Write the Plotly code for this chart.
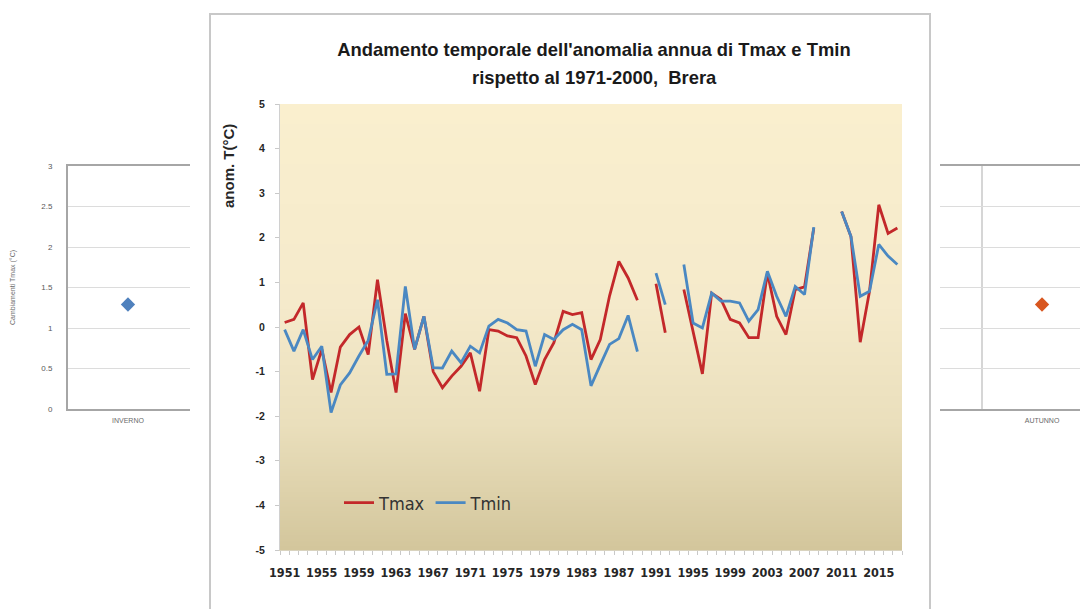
import base64, struct, zlib
import plotly.graph_objects as go

# ---------------- data ----------------
years = list(range(1951, 2018))
tmax = [0.10, 0.17, 0.54, -1.18, -0.50, -1.47, -0.45, -0.17, 0.00, -0.62,
        1.06, -0.30, -1.47, 0.30, -0.50, 0.24, -1.00, -1.36, -1.10, -0.88,
        -0.58, -1.44, -0.06, -0.09, -0.20, -0.24, -0.65, -1.29, -0.73, -0.35,
        0.35, 0.28, 0.32, -0.73, -0.28, 0.70, 1.47, 1.10, 0.60, None,
        0.97, -0.13, None, 0.84, -0.10, -1.05, 0.76, 0.62, 0.17, 0.09,
        -0.24, -0.24, 1.21, 0.24, -0.17, 0.84, 0.90, 2.22, None, None,
        2.59, 2.03, -0.34, 0.80, 2.74, 2.10, 2.22]
tmin = [-0.06, -0.54, -0.06, -0.73, -0.43, -1.92, -1.30, -1.03, -0.65, -0.30,
        0.61, -1.06, -1.05, 0.91, -0.50, 0.24, -0.91, -0.92, -0.54, -0.80,
        -0.43, -0.58, 0.02, 0.17, 0.09, -0.06, -0.09, -0.88, -0.17, -0.28,
        -0.06, 0.06, -0.06, -1.32, -0.85, -0.39, -0.26, 0.26, -0.55, None,
        1.21, 0.50, None, 1.40, 0.09, -0.02, 0.76, 0.58, 0.58, 0.54,
        0.13, 0.39, 1.25, 0.69, 0.24, 0.91, 0.73, 2.24, None, None,
        2.59, 2.03, 0.69, 0.80, 1.85, 1.59, 1.40]
tick_years = [1951, 1955, 1959, 1963, 1967, 1971, 1975, 1979, 1983, 1987,
              1991, 1995, 1999, 2003, 2007, 2011, 2015]
tick_labels = ["1951", "1955", "1959", "1963", "1967", "1971", "1975", "1979", "1983",
               "1987", "1991", "1995", "1999", "2003", "2007", "2011", "2015"]
y_ticks = [5, 4, 3, 2, 1, 0, -1, -2, -3, -4, -5]
y_tick_labels = ["5", "4", "3", "2", "1", "0", "-1", "-2", "-3", "-4", "-5"]

left_cat = ["INVERNO"]
left_val = [1.29]
right_cat = ["AUTUNNO"]
right_val = [1.29]

# page offset of the plot div (body margin) is compensated here
OFF = 8
W, H = 1088 - OFF, 609 - OFF
RED = "#C3282A"
BLUE = "#4A88C2"


def px(x):
    return (x - OFF) / W


def py(y):
    return 1 - (y - OFF) / H


def gradient_png(stops, h=256):
    rows = []
    for r in range(h):
        t = r / (h - 1)
        for i in range(len(stops) - 1):
            t0, c0 = stops[i]
            t1, c1 = stops[i + 1]
            if t0 <= t <= t1:
                f = (t - t0) / (t1 - t0) if t1 > t0 else 0
                rows.append(bytes(int(round(c0[k] + (c1[k] - c0[k]) * f)) for k in range(3)))
                break
    raw = b"".join(b"\x00" + row * 2 for row in rows)

    def chunk(tag, data):
        return (struct.pack(">I", len(data)) + tag + data +
                struct.pack(">I", zlib.crc32(tag + data) & 0xFFFFFFFF))

    png = (b"\x89PNG\r\n\x1a\n" +
           chunk(b"IHDR", struct.pack(">IIBBBBB", 2, h, 8, 2, 0, 0, 0)) +
           chunk(b"IDAT", zlib.compress(raw)) + chunk(b"IEND", b""))
    return "data:image/png;base64," + base64.b64encode(png).decode()


grad = gradient_png([(0.0, (250, 239, 206)), (0.45, (245, 234, 203)),
                     (0.72, (234, 223, 188)), (1.0, (211, 198, 156))])

fig = go.Figure()
fig.add_trace(go.Scatter(x=years, y=tmax, name="Tmax", mode="lines",
                         line=dict(color=RED, width=2.8), connectgaps=False))
fig.add_trace(go.Scatter(x=years, y=tmin, name="Tmin", mode="lines",
                         line=dict(color=BLUE, width=2.8), connectgaps=False))
fig.add_trace(go.Scatter(x=[0], y=left_val, xaxis="x2", yaxis="y2", mode="markers",
                         marker=dict(symbol="diamond", size=11, color="#4F81BD"),
                         showlegend=False, text=left_cat))
fig.add_trace(go.Scatter(x=[0], y=right_val, xaxis="x3", yaxis="y3", mode="markers",
                         marker=dict(symbol="diamond", size=11, color="#D8561F"),
                         showlegend=False, text=right_cat))

tickfont_main = dict(family="Liberation Sans, Arial, sans-serif", size=10.5,
                     color="#262626", weight="bold")
small_font = dict(family="Liberation Sans, Arial, sans-serif", size=7, color="#6a6a6a")
title_font = dict(family="Liberation Sans, Arial, sans-serif", size=18.4,
                  color="#1a1a1a", weight="bold")

fig.update_layout(
    width=W, height=H, margin=dict(l=0, r=0, t=0, b=0, autoexpand=False),
    paper_bgcolor="white", plot_bgcolor="rgba(0,0,0,0)",
    title=dict(text="Andamento temporale dell'anomalia annua di Tmax e Tmin",
               x=px(594), y=py(50), xanchor="center", yanchor="middle",
               font=title_font),
    showlegend=True,
    legend=dict(orientation="h", x=px(339), y=py(503), xanchor="left", yanchor="middle",
                bgcolor="rgba(0,0,0,0)", itemwidth=30,
                font=dict(family="Liberation Sans Narrow, DejaVu Sans Condensed, sans-serif",
                          size=18, color="#333333")),
    xaxis=dict(domain=[px(280), px(902)], range=[1950.5, 2017.5],
               tickmode="array", tickvals=tick_years, ticktext=tick_labels,
               ticks="", showgrid=False, zeroline=False,
               showline=True, linecolor="#d9d3bf", linewidth=1,
               tickfont=dict(family="Liberation Sans Narrow, DejaVu Sans Condensed, sans-serif",
                             size=12.5, color="#262626", weight="bold"),
               ticklabelstandoff=11,
               minor=dict(ticks="outside", tick0=1950.5, dtick=1, ticklen=4,
                          tickcolor="#c9c9c9", showgrid=False)),
    yaxis=dict(domain=[py(550), py(104)], range=[-5, 5], tickmode="array",
               tickvals=y_ticks, ticktext=y_tick_labels, showgrid=False, zeroline=False,
               showline=True, linecolor="#d0d0d0", linewidth=1,
               ticks="outside", ticklen=4, tickcolor="#c9c9c9",
               tickfont=tickfont_main, ticklabelstandoff=8),
    xaxis2=dict(domain=[px(68), px(190)], range=[-0.5, 0.517], anchor="y2",
                tickmode="array", tickvals=[0], ticktext=left_cat, ticks="",
                showgrid=False, zeroline=False, showline=True, mirror=True,
                linecolor="#a6a6a6", linewidth=2, tickfont=small_font,
                ticklabelstandoff=4),
    yaxis2=dict(domain=[py(409), py(166)], range=[0, 3], anchor="x2", dtick=0.5,
                showgrid=True, gridcolor="#dcdcdc", gridwidth=1, zeroline=False,
                showline=True, linecolor="#a6a6a6", linewidth=2, ticks="",
                tickfont=dict(family="Liberation Sans, Arial, sans-serif", size=8,
                              color="#595959"), ticklabelstandoff=12),
    xaxis3=dict(domain=[px(940), 1.0], range=[-0.85, 0.383], anchor="y3",
                tickmode="array", tickvals=[0], ticktext=right_cat, ticks="",
                showgrid=False, zeroline=False, showline=True, mirror=True,
                linecolor="#a6a6a6", linewidth=2, tickfont=small_font,
                ticklabelstandoff=4,
                minor=dict(tickmode="array", tickvals=[-0.5], showgrid=True,
                           gridcolor="#d6d6d6", gridwidth=1.5, ticks="")),
    yaxis3=dict(domain=[py(409), py(166)], range=[0, 3], anchor="x3", dtick=0.5,
                showgrid=True, gridcolor="#dcdcdc", gridwidth=1, zeroline=False,
                showline=False, showticklabels=False, ticks=""),
    images=[dict(source=grad, xref="x", yref="y", x=1950.5, y=5, sizex=67, sizey=10,
                 sizing="stretch", xanchor="left", yanchor="top", layer="below")],
    shapes=[dict(type="rect", xref="paper", yref="paper", x0=px(210), x1=px(930),
                 y0=-0.05, y1=py(14), line=dict(color="#c8c8c8", width=2),
                 fillcolor="white", layer="below")],
    annotations=[
        dict(text="rispetto al 1971-2000,&nbsp; Brera", xref="paper", yref="paper",
             x=px(594), y=py(77), xanchor="center", yanchor="middle",
             showarrow=False, font=title_font),
        dict(text="anom. T(°C)", xref="paper", yref="paper", x=px(228), y=py(166),
             textangle=-90, showarrow=False, xanchor="center", yanchor="middle",
             font=dict(family="Liberation Sans, Arial, sans-serif", size=15,
                       color="#262626", weight="bold")),
        dict(text="Cambiamenti Tmax (°C)", xref="paper", yref="paper", x=px(13),
             y=py(288), textangle=-90, showarrow=False, xanchor="center",
             yanchor="middle", font=small_font),
    ],
)

fig.write_html("out.html")
